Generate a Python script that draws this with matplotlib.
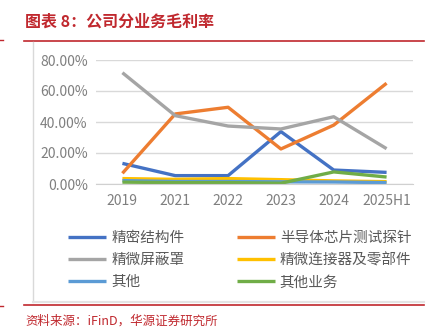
import matplotlib
matplotlib.use("Agg")
import matplotlib.pyplot as plt
from matplotlib.lines import Line2D
from matplotlib.ticker import FuncFormatter

plt.rcParams['font.family'] = ['Noto Sans CJK SC', 'DejaVu Sans']

years = ["2019", "2021", "2022", "2023", "2024", "2025H1"]
names = ["精密结构件", "半导体芯片测试探针", "精微屏蔽罩", "精微连接器及零部件", "其他", "其他业务"]
precision_parts = [13.3, 5.4, 5.4, 33.8, 9.0, 7.5]
probes = [6.9, 45.2, 49.5, 22.6, 38.0, 65.0]
shielding = [71.8, 44.1, 37.4, 35.5, 43.4, 22.8]
connectors = [3.5, 3.0, 3.5, 2.8, 2.0, 1.5]
others = [2.2, 1.6, 1.6, 1.4, 1.3, 0.9]
other_biz = [1.2, 0.9, 0.9, 0.5, 7.8, 4.5]
colors = ["#4472C4", "#ED7D31", "#A5A5A5", "#FFC000", "#5B9BD5", "#70AD47"]

series = [precision_parts, probes, shielding, connectors, others, other_biz]

fig = plt.figure(figsize=(4.42, 3.33), dpi=100)
red = "#C0282E"

# title and frame lines
fig.text(25 / 442, 1 - 22 / 333, "图表 8：公司分业务毛利率", color=red, fontsize=11.5,
         fontweight="bold", va="center", ha="left")
fig.add_artist(Line2D([24 / 442, 424 / 442], [1 - 41 / 333] * 2, color=red, lw=1.2))
fig.add_artist(Line2D([24 / 442, 424 / 442], [1 - 305 / 333] * 2, color=red, lw=1.2))
fig.add_artist(Line2D([0, 3 / 442], [1 - 40 / 333] * 2, color=red, lw=1))
fig.add_artist(Line2D([0, 3 / 442], [1 - 306 / 333] * 2, color=red, lw=1))
fig.add_artist(Line2D([33 / 442] * 2, [1 - 42 / 333, 1 - 302 / 333], color="#D9D9D9", lw=1))
fig.add_artist(Line2D([33 / 442, 424 / 442], [1 - 302 / 333] * 2, color="#E4E4E4", lw=1.5))
fig.text(25 / 442, 1 - 321 / 333, "资料来源：iFinD，华源证券研究所", color=red, fontsize=9,
         va="center", ha="left")

ax = fig.add_axes([96 / 442, 1 - 184 / 333, 317 / 442, 124 / 333])
x = range(len(years))
handles = []
for vals, name, c in zip(series, names, colors):
    h, = ax.plot(x, vals, color=c, lw=2.4, label=name, solid_capstyle="butt")
    handles.append(h)

ax.set_xlim(-0.5, len(years) - 0.5)
ax.set_ylim(0, 80)
ax.set_yticks([0, 20, 40, 60, 80])
ax.yaxis.set_major_formatter(FuncFormatter(lambda v, p: f"{v:.2f}%"))
ax.set_xticks(list(x))
ax.set_xticklabels(years)
ax.grid(axis="y", color="#D9D9D9", lw=1)
ax.set_axisbelow(True)
for s in ["top", "right", "left"]:
    ax.spines[s].set_visible(False)
ax.spines["bottom"].set_color("#D0D0D0")
ax.tick_params(axis="both", length=0, colors="#7F7F7F", labelsize=10)
ax.tick_params(axis="y", pad=6)
ax.tick_params(axis="x", pad=7)

order = [0, 2, 4, 1, 3, 5]
fig.legend([handles[i] for i in order], [names[i] for i in order], ncol=2,
           loc="upper left", bbox_to_anchor=(55 / 442, 1 - 218 / 333), frameon=False,
           fontsize=10.5, handlelength=2.6, handletextpad=0.35, columnspacing=3.6,
           labelspacing=0.55, labelcolor="#595959")

fig.savefig("out.png", dpi=100)
